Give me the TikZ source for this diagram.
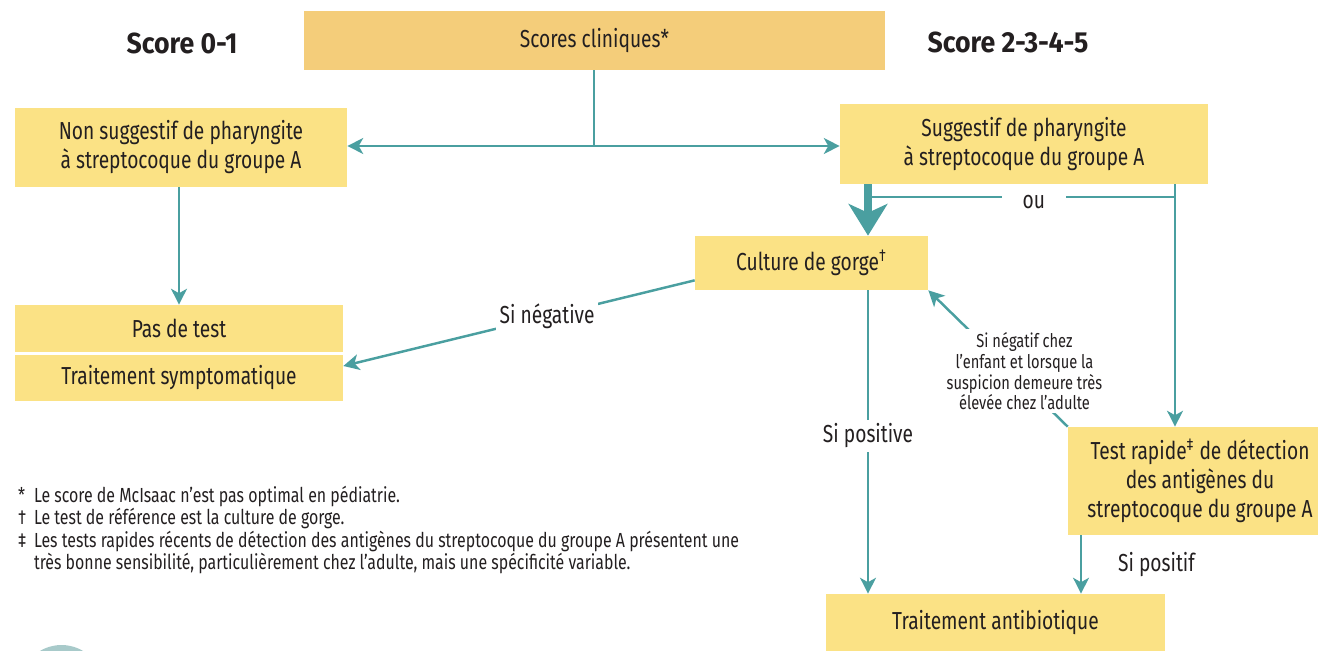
\documentclass[tikz,border=0pt]{standalone}
\usepackage{fontspec}
\setmainfont{Fira Sans}[FakeStretch=0.78]
\newfontfamily\headfont{Fira Sans}[FakeStretch=0.92]
\usetikzlibrary{arrows.meta, positioning, calc}

\definecolor{boxyel}{HTML}{FBE285}
\definecolor{topyel}{HTML}{F4CD7A}
\definecolor{flow}{HTML}{4A9FA0}
\definecolor{ink}{HTML}{231F20}
\definecolor{disc}{HTML}{A8CACA}

\begin{document}
\begin{tikzpicture}[
    x=0.02cm, y=-0.02cm,
    font=\fontsize{14}{16.5}\selectfont, text=ink,
    box/.style   = {fill=boxyel, inner sep=0pt, align=center},
    lnk/.style   = {-{Stealth[length=9pt, width=9pt, inset=2.5pt]}, draw=flow, line width=1.4pt},
    plain/.style = {draw=flow, line width=1.4pt},
    big/.style   = {-{Stealth[length=18pt, width=22pt, inset=5pt]}, draw=flow, line width=4pt},
    lab/.style   = {fill=white, inner sep=2pt, align=center},
    small/.style = {font=\fontsize{10.7}{11.7}\selectfont},
    head/.style  = {font=\headfont\bfseries\fontsize{16.5}{19}\selectfont}
  ]
  \clip (0,0) rectangle (1318,651);

  % --- page ornament (cut by the page edge) ---
  \fill[disc] (61.5,687) circle (0.84cm);

  % --- score headings ---
  \node[head] (low)  at (182,43)  {Score 0-1};
  \node[head] (high) at (1008,42) {Score 2-3-4-5};

  % --- boxes ---
  \node[box, fill=topyel, minimum width=11.62cm, minimum height=1.18cm] (scores) at (594.5,40.5) {Scores cliniques*};
  \node[box, minimum width=6.64cm, minimum height=1.58cm] (nonsug) at (181,147.5)
       {Non suggestif de pharyngite\\à streptocoque du groupe A};
  \node[box, minimum width=7.36cm, minimum height=1.6cm] (sug) at (1024,144)
       {Suggestif de pharyngite\\à streptocoque du groupe A};
  \node[box, minimum width=4.66cm, minimum height=1.08cm] (culture) at (811.5,263) {Culture de gorge\textsuperscript{†}};
  \node[box, minimum width=6.56cm, minimum height=0.94cm] (pastest) at (179,328.5) {Pas de test};
  \node[box, minimum width=6.56cm, minimum height=0.92cm] (symp) at (179,378) {Traitement symptomatique};
  \node[box, minimum width=5.28cm, minimum height=2.16cm] (rapide) at (1200,481)
       {Test rapide\textsuperscript{‡} de détection\\des antigènes du\\streptocoque du groupe A};
  \node[box, minimum width=6.78cm, minimum height=1.14cm] (antibio) at (995.5,622.5) {Traitement antibiotique};

  % --- fork under the clinical scores ---
  \coordinate (fork) at (594,146);
  \draw[plain] (scores.south -| fork) -- (fork);
  \draw[lnk] (fork) -- (fork -| nonsug.east);
  \draw[lnk] (fork) -- (fork -| sug.west);
  \draw[lnk] (nonsug.south -| pastest.north) -- (pastest.north);

  % --- suggestive branch ---
  \coordinate (split) at (868,197);
  \coordinate (orR)   at (1175,197);
  \draw[big] (sug.south -| split) -- (culture.north -| split);
  \draw[plain] (split) -- node[lab, pos=0.54, yshift=-0.1cm, inner xsep=0.42cm]{ou} (orR);
  \draw[lnk] (sug.south -| orR) -- (rapide.north -| orR);
  \draw[lnk] (culture.south -| split) -- node[lab, pos=0.48]{Si positive} (antibio.north -| split);
  \coordinate (posR) at (1081,563);
  \draw[lnk] (rapide.south -| posR) -- node[pos=0.5, right=0.6cm]{Si positif} (antibio.north -| posR);
  \draw[lnk] (rapide.north west) -- node[lab, small, pos=0.31, yshift=0.26cm]
       {Si négatif chez\\l’enfant et lorsque la\\suspicion demeure très\\élevée chez l’adulte} (culture.south east);
  \draw[lnk] ([yshift=0.2cm]culture.south west) -- node[lab, pos=0.42]{Si négative} ([yshift=0.24cm]symp.east);

  % --- footnotes ---
  \node[anchor=north west, align=left, font=\fontsize{11.6}{12.75}\selectfont] (notes) at (12,480)
       {\makebox[9pt][l]{*}Le score de McIsaac n’est pas optimal en pédiatrie.\\
        \makebox[9pt][l]{†}Le test de référence est la culture de gorge.\\
        \makebox[9pt][l]{‡}Les tests rapides récents de détection des antigènes du streptocoque du groupe A présentent une\\
        \makebox[9pt][l]{}très bonne sensibilité, particulièrement chez l’adulte, mais une spécificité variable.};

\end{tikzpicture}
\end{document}
